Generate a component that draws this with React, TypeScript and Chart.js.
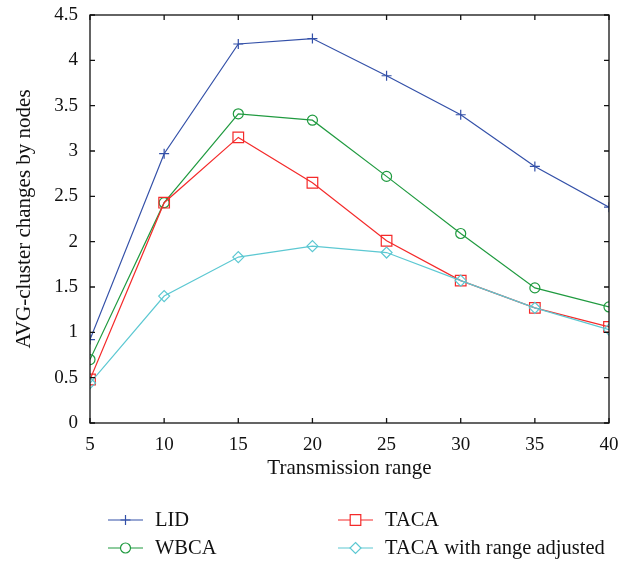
import React, { useEffect, useRef } from "react";
import { Chart, registerables } from "chart.js";

Chart.register(...registerables);

const xValues = [5, 10, 15, 20, 25, 30, 35, 40];
const lid = [0.92, 2.97, 4.18, 4.24, 3.83, 3.4, 2.83, 2.38];
const wbca = [0.7, 2.43, 3.41, 3.34, 2.72, 2.09, 1.49, 1.28];
const taca = [0.48, 2.43, 3.15, 2.65, 2.01, 1.57, 1.27, 1.06];
const tacaAdj = [0.44, 1.4, 1.83, 1.95, 1.88, 1.57, 1.27, 1.03];
const seriesNames = ["LID", "WBCA", "TACA", "TACA with range adjusted"];
const xTitle = "Transmission range";
const yTitle = "AVG-cluster changes by nodes";

const FONT = "'Liberation Serif', 'DejaVu Serif', serif";

const framePlugin = {
  id: "frame",
  afterDatasetsDraw(chart: any) {
    const { ctx, chartArea, scales } = chart;
    const { left, right, top, bottom } = chartArea;
    ctx.save();
    ctx.strokeStyle = "#111";
    ctx.lineWidth = 1.3;
    ctx.strokeRect(left, top, right - left, bottom - top);
    const tl = 5;
    ctx.beginPath();
    scales.x.ticks.forEach((t: any) => {
      const px = scales.x.getPixelForValue(t.value);
      ctx.moveTo(px, bottom);
      ctx.lineTo(px, bottom - tl);
      ctx.moveTo(px, top);
      ctx.lineTo(px, top + tl);
    });
    scales.y.ticks.forEach((t: any) => {
      const py = scales.y.getPixelForValue(t.value);
      ctx.moveTo(left, py);
      ctx.lineTo(left + tl, py);
      ctx.moveTo(right, py);
      ctx.lineTo(right - tl, py);
    });
    ctx.stroke();
    ctx.restore();
  },
};

function drawMarker(ctx: any, style: string, r: number, x: number, y: number, color: string) {
  ctx.save();
  ctx.strokeStyle = color;
  ctx.fillStyle = "#fff";
  ctx.lineWidth = 1.2;
  ctx.beginPath();
  if (style === "cross") {
    ctx.moveTo(x - r, y);
    ctx.lineTo(x + r, y);
    ctx.moveTo(x, y - r);
    ctx.lineTo(x, y + r);
    ctx.stroke();
  } else if (style === "circle") {
    ctx.arc(x, y, r, 0, Math.PI * 2);
    ctx.fill();
    ctx.stroke();
  } else if (style === "rect") {
    const s = r * Math.SQRT1_2;
    ctx.rect(x - s, y - s, 2 * s, 2 * s);
    ctx.fill();
    ctx.stroke();
  } else if (style === "rectRot") {
    ctx.moveTo(x, y - r);
    ctx.lineTo(x + r, y);
    ctx.lineTo(x, y + r);
    ctx.lineTo(x - r, y);
    ctx.closePath();
    ctx.fill();
    ctx.stroke();
  }
  ctx.restore();
}

const legendPlugin = {
  id: "customLegend",
  afterDraw(chart: any) {
    const { ctx } = chart;
    const pos = [
      { x: 108, y: 520 },
      { x: 108, y: 548 },
      { x: 338, y: 520 },
      { x: 338, y: 548 },
    ];
    ctx.save();
    chart.data.datasets.forEach((ds: any, i: number) => {
      const p = pos[i];
      ctx.strokeStyle = ds.borderColor;
      ctx.lineWidth = 1.2;
      ctx.beginPath();
      ctx.moveTo(p.x, p.y);
      ctx.lineTo(p.x + 35, p.y);
      ctx.stroke();
      drawMarker(ctx, ds.pointStyle, ds.pointRadius, p.x + 17.5, p.y, ds.borderColor);
      ctx.fillStyle = "#111";
      ctx.font = `20.5px ${FONT}`;
      ctx.textBaseline = "middle";
      ctx.textAlign = "left";
      ctx.fillText(ds.label, p.x + 47, p.y + 1);
    });
    ctx.restore();
  },
};

export default function App() {
  const ref = useRef<HTMLCanvasElement | null>(null);
  useEffect(() => {
    if (!ref.current) return;
    const mk = (vals: number[]) => vals.map((v, i) => ({ x: xValues[i], y: v }));
    const colors = ["#3350a8", "#1f9a3f", "#f42a2a", "#5cc8d2"];
    const styles = ["cross", "circle", "rect", "rectRot"];
    const radii = [5, 5, 7.5, 5.5];
    const data = [lid, wbca, taca, tacaAdj];
    const chart = new Chart(ref.current, {
      type: "line",
      data: {
        datasets: data.map((d, i) => ({
          label: seriesNames[i],
          data: mk(d),
          borderColor: colors[i],
          backgroundColor: "#fff",
          pointBackgroundColor: i === 0 ? colors[i] : "rgba(255,255,255,0)",
          pointBorderColor: colors[i],
          pointStyle: styles[i],
          pointRadius: radii[i],
          pointBorderWidth: 1.2,
          borderWidth: 1.2,
          tension: 0,
          fill: false,
          order: 4 - i,
        })),
      },
      options: {
        animation: false,
        responsive: false,
        devicePixelRatio: 1,
        layout: { padding: { left: 0, top: 15, right: 26, bottom: 0 } },
        plugins: { legend: { display: false }, tooltip: { enabled: false } },
        scales: {
          x: {
            type: "linear",
            min: 5,
            max: 40,
            grid: { display: false, drawTicks: false },
            border: { display: false },
            ticks: {
              stepSize: 5,
              padding: 11,
              color: "#111",
              font: { family: FONT, size: 19 },
            },
            title: {
              display: true,
              text: xTitle,
              color: "#111",
              font: { family: FONT, size: 21 },
              padding: { top: 0, bottom: 80 },
            },
            afterFit: (s: any) => {
              s.height = 138;
              s.paddingLeft = 0;
              s.paddingRight = 0;
            },
          },
          y: {
            min: 0,
            max: 4.5,
            grid: { display: false, drawTicks: false },
            border: { display: false },
            ticks: {
              stepSize: 0.5,
              padding: 12,
              color: "#111",
              font: { family: FONT, size: 19 },
              callback: (v: any) => String(Number(v)),
            },
            title: {
              display: true,
              text: yTitle,
              color: "#111",
              font: { family: FONT, size: 21 },
              padding: { top: 12, bottom: 0 },
            },
            afterFit: (s: any) => {
              s.width = 90;
              s.paddingTop = 0;
              s.paddingBottom = 0;
            },
          },
        },
      },
      plugins: [framePlugin, legendPlugin],
    } as any);
    return () => chart.destroy();
  }, []);
  return (
    <div style={{ position: "absolute", left: 0, top: 0, width: 635, height: 561, background: "#fff" }}>
      <canvas ref={ref} width={635} height={561} style={{ width: 635, height: 561 }} />
    </div>
  );
}
